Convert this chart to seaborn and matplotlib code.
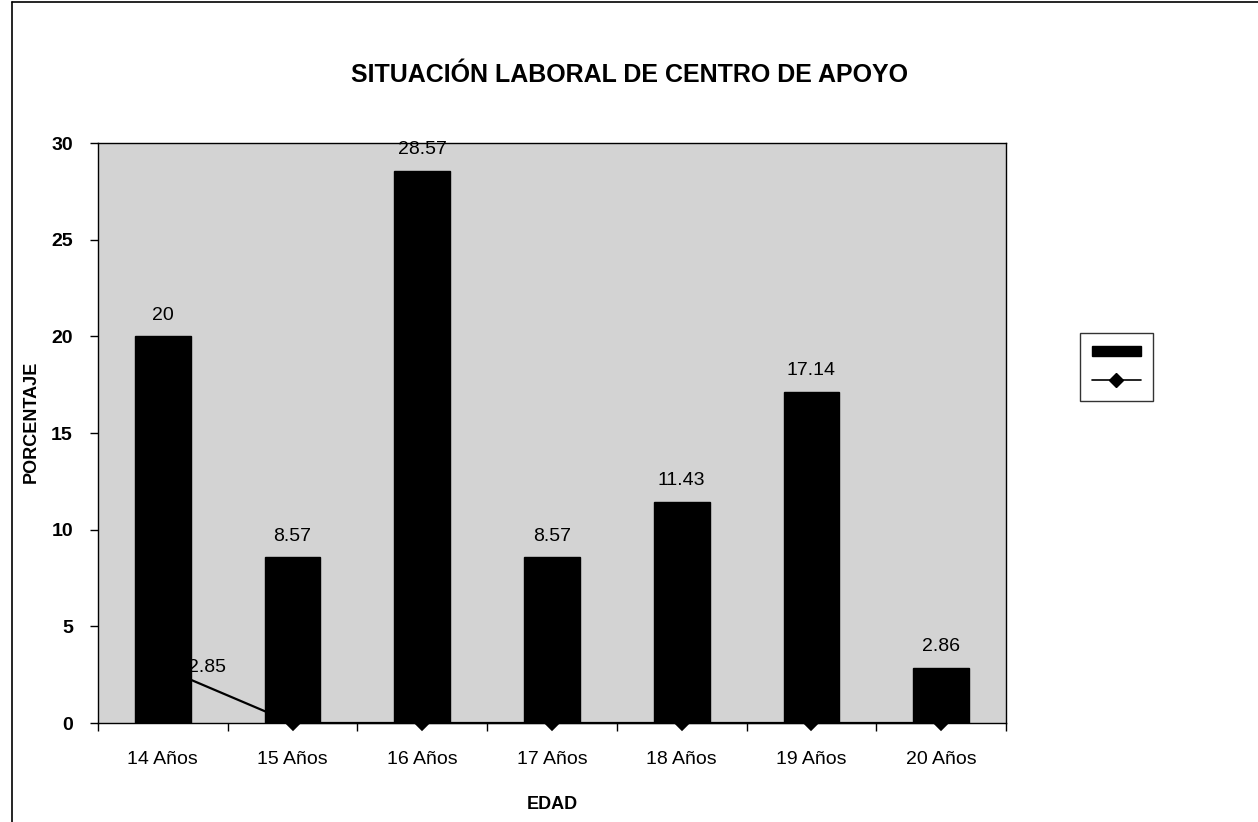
"""
Situación laboral de centro de apoyo - porcentaje por edad.
"""

import pandas as pd
import matplotlib.pyplot as plt
import matplotlib.patches as mpatches
import matplotlib.lines as mlines
import seaborn as sns

edades = ["14 Años", "15 Años", "16 Años", "17 Años", "18 Años", "19 Años", "20 Años"]
porcentaje = [20, 8.57, 28.57, 8.57, 11.43, 17.14, 2.86]
serie_linea = [2.85, 0, 0, 0, 0, 0, 0]
etiquetas_barras = ["20", "8.57", "28.57", "8.57", "11.43", "17.14", "2.86"]

sns.set_theme(style="white")
plt.rcParams["font.family"] = ["Liberation Sans", "DejaVu Sans"]
plt.rcParams["text.color"] = "black"
plt.rcParams["axes.labelcolor"] = "black"
plt.rcParams["xtick.color"] = "black"
plt.rcParams["ytick.color"] = "black"

df = pd.DataFrame({"edad": edades, "porcentaje": porcentaje, "linea": serie_linea})

fig = plt.figure(figsize=(12.58, 8.22), dpi=100)
ax = fig.add_axes([98 / 1258, 1 - 723 / 822, (1006 - 98) / 1258, (723 - 143) / 822])
ax.set_facecolor("#d3d3d3")

sns.barplot(data=df, x="edad", y="porcentaje", color="black", width=0.43,
            saturation=1, edgecolor="black", ax=ax, zorder=2)
sns.pointplot(data=df, x="edad", y="linea", color="black", markers="D",
              markersize=7, linewidth=1.6, ax=ax)
for ln in ax.lines:
    ln.set_zorder(1.5)
    ln.set_clip_on(False)

for i, (v, t) in enumerate(zip(porcentaje, etiquetas_barras)):
    ax.text(i, v + 0.65, t, ha="center", va="bottom", fontsize=14, zorder=3)
ax.text(0.34, serie_linea[0], "2.85", ha="center", va="center", fontsize=14, zorder=1.6)

ax.set_ylim(0, 30)
ax.set_xlim(-0.5, 6.5)
ax.set_yticks(range(0, 31, 5))
ax.set_xticks([x - 0.5 for x in range(8)], minor=True)
ax.tick_params(axis="x", which="major", length=0, labelsize=14, pad=20)
ax.tick_params(axis="x", which="minor", length=6, width=1, color="black", direction="out", bottom=True)
ax.tick_params(axis="y", length=6, width=1, color="black", direction="out", left=True,
               labelsize=14, pad=12)
for lab in ax.get_yticklabels():
    lab.set_fontweight("bold")
for s in ax.spines.values():
    s.set_color("black")
    s.set_linewidth(1)

ax.set_xlabel("EDAD", fontsize=13, fontweight="bold", labelpad=20)
ax.set_ylabel("PORCENTAJE", fontsize=13, fontweight="bold")
ax.yaxis.set_label_coords(-0.064, 0.52)
fig.text(630 / 1258, 1 - 75 / 822, "SITUACIÓN LABORAL DE CENTRO DE APOYO",
         ha="center", va="center", fontsize=18, fontweight="bold")

h_bar = mpatches.Patch(facecolor="black", edgecolor="black")
h_line = mlines.Line2D([], [], color="black", marker="D", markersize=7, linewidth=1.2)
leg = fig.legend([h_bar, h_line], ["", ""], loc="center left",
                 bbox_to_anchor=(1072 / 1258, 1 - 367 / 822), frameon=True,
                 handlelength=3.2, handletextpad=0, borderpad=0.8, labelspacing=1.0,
                 fancybox=False)
leg.get_frame().set_edgecolor("black")
leg.get_frame().set_linewidth(1)

# marco exterior del escaneo
fig.add_artist(mlines.Line2D([12 / 1258, 12 / 1258], [0, 1 - 2 / 822], color="black", lw=1.2))
fig.add_artist(mlines.Line2D([12 / 1258, 1], [1 - 2 / 822, 1 - 2 / 822], color="black", lw=1.2))

fig.savefig("out.png", dpi=100)
